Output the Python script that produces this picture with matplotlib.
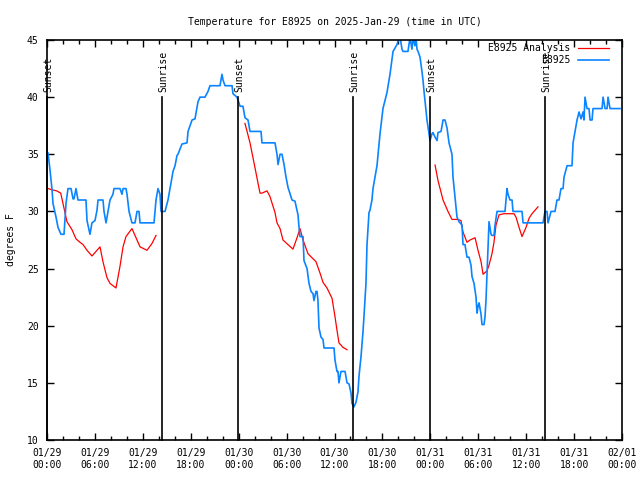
import matplotlib
matplotlib.use('Agg')
import matplotlib.pyplot as plt
import numpy as np

# hours since 2025-01-29 00:00 UTC
obs_hours = [0.13, 0.38, 0.63, 0.75, 1.13, 1.38, 1.75, 2.13, 2.38, 2.63, 3.01, 3.26, 3.38, 3.63,
             3.88, 4.88, 5.01, 5.38, 5.63, 6.01, 6.26, 6.39, 7.01, 7.14, 7.39, 7.64, 7.89, 8.26,
             8.39, 9.14, 9.39, 9.52, 9.89, 10.02, 10.27, 10.64, 11.02, 11.27, 11.52, 11.65, 13.40,
             13.65, 13.90, 14.15, 14.28, 14.78, 15.15, 15.40, 15.78, 16.03, 16.28, 16.40, 16.90,
             17.53, 17.66, 18.16, 18.53, 18.91, 19.16, 19.78, 20.16, 20.41, 21.66, 21.91, 22.04,
             22.29, 23.17, 23.29, 23.79, 24.04, 24.17, 24.54, 24.79, 25.17, 25.42, 26.80, 26.92,
             28.55, 28.80, 28.93, 29.18, 29.43, 29.68, 29.93, 30.18, 30.68, 31.05, 31.43, 31.56,
             31.68, 32.06, 32.18, 32.56, 32.81, 33.06, 33.31, 33.43, 33.68, 33.81, 33.93, 34.06,
             34.31, 34.56, 34.69, 35.94, 36.06, 36.31, 36.44, 36.56, 36.81, 37.32, 37.57, 37.82,
             38.07, 38.19, 38.44, 38.69, 38.94, 39.07, 39.32, 39.57, 39.69, 39.94, 40.07, 40.32,
             40.44, 40.69, 40.82, 41.32, 41.70, 42.07, 42.57, 42.95, 43.33, 43.83, 43.95, 44.20,
             44.45, 44.58, 45.20, 45.45, 45.70, 45.83, 46.08, 46.21, 46.33, 46.46, 46.71, 46.96,
             47.08, 47.21, 47.33, 47.58, 47.96, 48.21, 48.33, 48.59, 48.84, 48.96, 49.34, 49.59,
             49.84, 50.09, 50.34, 50.71, 50.84, 51.09, 51.34, 51.59, 51.97, 52.09, 52.34, 52.59,
             52.84, 53.09, 53.22, 53.47, 53.72, 53.85, 53.97, 54.10, 54.35, 54.47, 54.72, 54.85,
             54.97, 55.22, 55.35, 55.60, 55.72, 55.97, 56.10, 56.35, 57.35, 57.48, 57.60, 57.73,
             57.98, 58.23, 58.35, 59.48, 59.61, 62.11, 62.36, 62.61, 62.74, 63.11, 63.61, 63.86,
             64.11, 64.36, 64.62, 64.74, 65.12, 65.74, 65.87, 66.12, 66.37, 66.62, 66.87, 67.12,
             67.24, 67.37, 67.62, 67.87, 68.00, 68.25, 68.37, 69.50, 69.63, 69.88, 70.13, 70.25,
             70.50, 71.75]
obs_temp = [35.1, 33.6, 31.9, 30.7, 29.5, 28.6, 28.0, 28.0, 30.7, 32.0, 32.0, 31.1, 31.1, 32.0,
            31.0, 31.0, 29.2, 28.0, 29.0, 29.2, 30.1, 31.0, 31.0, 30.0, 29.0, 30.0, 31.0, 31.5,
            32.0, 32.0, 31.5, 32.0, 32.0, 31.5, 30.0, 29.0, 29.0, 30.0, 30.0, 29.0, 29.0,
            31.0, 32.0, 31.5, 30.0, 30.0, 31.0, 32.0, 33.5, 34.0, 34.9, 35.0, 35.9,
            36.0, 37.0, 38.0, 38.1, 39.6, 40.0, 40.0, 40.5, 41.0, 41.0, 42.0, 41.5,
            41.0, 41.0, 40.3, 40.0, 39.5, 39.2, 39.2, 38.2, 38.0, 37.0, 37.0, 36.0,
            36.0, 35.0, 34.1, 35.0, 35.0, 34.1, 33.0, 32.1, 31.0, 30.9, 29.7, 28.6,
            27.8, 27.8, 25.7, 25.0, 23.7, 23.0, 22.8, 22.2, 23.0, 23.0, 22.2, 19.8,
            19.0, 18.8, 18.05, 18.05, 17.0, 16.0, 16.0, 15.0, 16.0, 16.0, 15.0, 14.9,
            14.1, 13.2, 12.9, 13.3, 14.2, 15.6, 17.3, 19.5, 20.8, 23.7, 27.1, 29.9,
            30.1, 31.0, 32.0, 34.0, 36.8, 39.0, 40.4, 42.0, 44.0, 44.6, 44.9, 45.3,
            44.2, 44.0, 44.0, 45.2, 44.2, 45.2, 44.5, 45.2, 44.2, 44.0, 43.5, 42.2,
            41.5, 40.5, 39.7, 38.0, 36.2, 36.8, 36.9, 36.5, 36.2, 36.9, 37.0, 38.0,
            38.0, 37.3, 36.0, 35.0, 33.0, 31.2, 29.5, 29.1, 28.8, 27.1, 27.1, 26.0,
            26.0, 25.3, 24.3, 23.7, 22.5, 21.1, 21.7, 22.0, 21.0, 20.1, 20.1, 20.8,
            22.25, 26.6, 29.1, 28.0, 27.9, 27.9, 28.8, 30.0, 30.0, 31.0, 32.0, 31.5,
            31.0, 31.0, 30.0, 30.0, 29.0, 29.0, 30.0, 30.0, 29.0, 30.0, 30.0, 31.0,
            31.0, 32.0, 32.0, 33.0, 34.0, 34.0, 36.0, 37.0, 38.0, 38.7, 38.1, 38.7,
            38.0, 40.0, 39.0, 39.0, 38.0, 38.0, 39.0, 39.0, 40.0, 39.0, 39.0, 40.0,
            39.0, 39.0]

# analysis series, NaN marks the gaps between runs
ana_hours = [0.13, 0.59, 1.21, 1.72, 2.00, 2.50, 3.13, 3.63, 4.13, 4.51, 5.01, 5.63, 6.26, 6.64,
             7.01, 7.51, 7.89, 8.64, 9.14, 9.52, 9.89, 10.64, 11.27, 11.65, 12.52, 13.15, 13.65,
             14.0,
             24.79, 25.42, 26.05, 26.67, 26.92, 27.55, 27.92, 28.55, 28.80, 29.18, 29.55, 30.80,
             31.31, 31.68, 32.06, 32.68, 33.68, 34.19, 34.56, 35.06, 35.69, 36.06, 36.31, 36.56,
             37.07, 37.57,
             38.0,
             48.59, 48.96, 49.59, 50.21, 50.71, 51.47, 51.84, 52.09, 52.59, 52.97, 53.60, 53.97,
             54.35, 54.60, 55.10, 55.35, 55.72, 55.97, 56.22, 56.60, 57.22, 58.48, 58.73, 59.11,
             59.48, 59.98, 60.36, 60.73, 61.23, 61.48]
ana_temp = [32.0, 31.9, 31.8, 31.6, 30.7, 29.1, 28.4, 27.6, 27.3, 27.1, 26.6, 26.1, 26.6, 26.9,
            25.6, 24.2, 23.7, 23.3, 25.2, 26.9, 27.8, 28.5, 27.5, 26.9, 26.6, 27.2, 27.9,
            np.nan,
            37.7, 36.0, 33.8, 31.6, 31.6, 31.8, 31.3, 29.9, 29.0, 28.5, 27.5, 26.7,
            27.7, 28.5, 27.5, 26.3, 25.6, 24.6, 23.8, 23.3, 22.4, 20.8, 19.6, 18.5,
            18.1, 17.9,
            np.nan,
            34.06, 32.7, 31.0, 30.0, 29.3, 29.3, 29.2, 28.2, 27.3, 27.5, 27.7, 26.6,
            25.6, 24.5, 24.8, 25.3, 26.3, 27.3, 28.8, 29.7, 29.8, 29.8, 29.5, 28.6,
            27.8, 28.6, 29.4, 29.8, 30.2, 30.4]

sun_hours = [0.0, 14.38, 23.93, 38.33, 47.96, 62.36]
sun_names = ['Sunset', 'Sunrise', 'Sunset', 'Sunrise', 'Sunset', 'Sunrise']

xtick_hours = [0, 6, 12, 18, 24, 30, 36, 42, 48, 54, 60, 66, 72]
xtick_labels = ['01/29\n00:00', '01/29\n06:00', '01/29\n12:00', '01/29\n18:00',
                '01/30\n00:00', '01/30\n06:00', '01/30\n12:00', '01/30\n18:00',
                '01/31\n00:00', '01/31\n06:00', '01/31\n12:00', '01/31\n18:00',
                '02/01\n00:00']

plt.rcParams['font.family'] = ['DejaVu Sans Mono']
plt.rcParams['font.size'] = 7

fig = plt.figure(figsize=(6.4, 4.8), dpi=100)
ax = fig.add_axes([47 / 640, 40 / 480, 575 / 640, 400 / 480])

ax.plot(ana_hours, ana_temp, color='#ff0000', lw=0.9, label='E8925 Analysis')
ax.plot(obs_hours, obs_temp, color='#0a84ff', lw=1.2, label='E8925')

for h, name in zip(sun_hours, sun_names):
    ax.plot([h, h], [10, 40], color='black', lw=1.2, clip_on=False)
    ax.text(h + 0.15, 40.45, name, rotation=90, ha='center', va='bottom', fontsize=7)

ax.set_xlim(0, 72)
ax.set_ylim(10, 45)
ax.set_xticks(xtick_hours)
ax.set_xticklabels(xtick_labels)
ax.set_xticks(np.arange(0, 73, 2), minor=True)
ax.set_yticks(np.arange(10, 46, 5))
ax.tick_params(direction='in', top=True, right=True, length=5, width=1, pad=6)
ax.tick_params(which='minor', direction='in', top=True, right=True, length=3, width=1)
for s in ax.spines.values():
    s.set_linewidth(1.2)

ax.set_ylabel('degrees F', labelpad=8)
ax.set_title('Temperature for E8925 on 2025-Jan-29 (time in UTC)', fontsize=7, pad=11)

ax.legend(loc='upper right', bbox_to_anchor=((609 - 47) / 575, (440 - 43) / 400),
          frameon=False, markerfirst=False, borderaxespad=0, borderpad=0,
          handlelength=3.2, handletextpad=0.8, labelspacing=0.25, fontsize=7)

fig.savefig('out.png', dpi=100)
